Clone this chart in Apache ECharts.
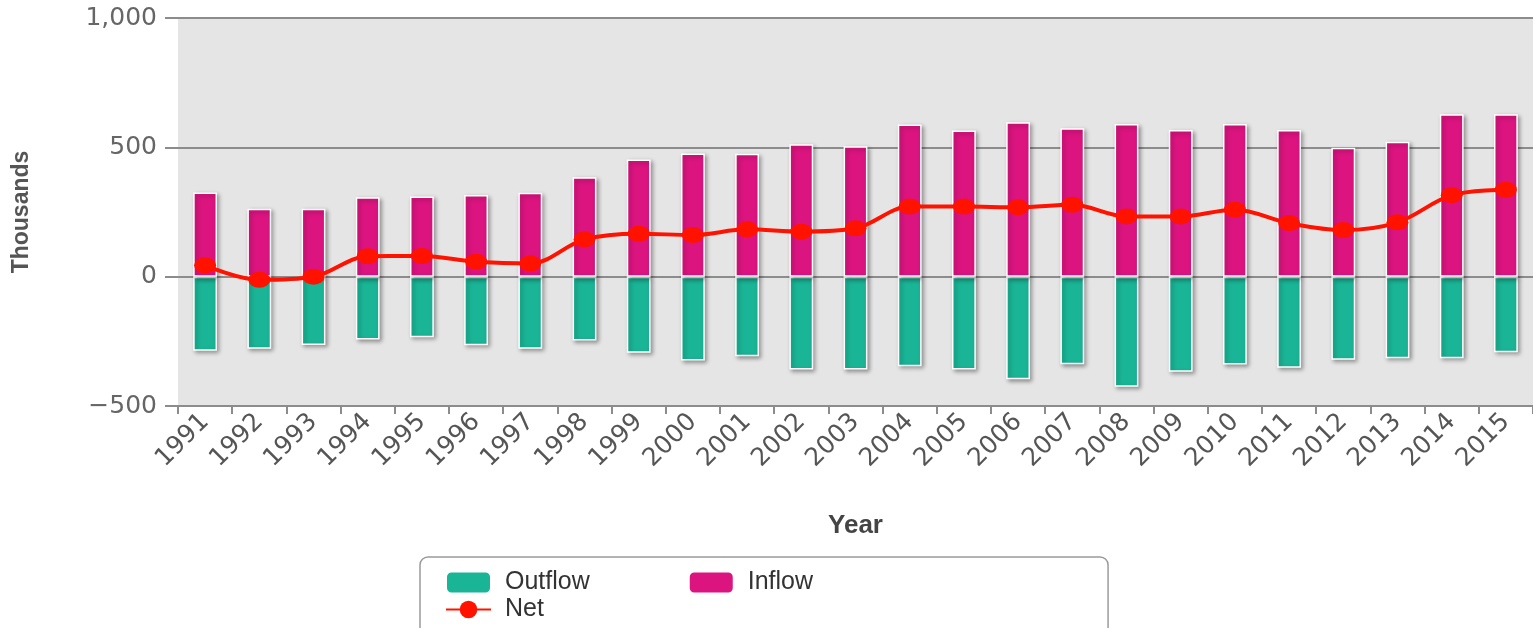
<!DOCTYPE html>
<html>
<head>
<meta charset="utf-8">
<script src="https://cdn.jsdelivr.net/npm/echarts@6/dist/echarts.min.js"></script>
<style>
html,body{margin:0;padding:0;background:#fff;}
#c{width:1533px;height:628px;}
</style>
</head>
<body>
<div id="c"></div>
<script>
var years = ['1991','1992','1993','1994','1995','1996','1997','1998','1999','2000','2001','2002','2003','2004','2005','2006','2007','2008','2009','2010','2011','2012','2013','2014','2015'];
var inflow = [325,263,263,307,310,316,324,384,453,476,475,512,504,588,565,597,574,590,567,590,567,498,522,628,628];
var outflow = [-286,-279,-264,-243,-234,-265,-279,-247,-294,-324,-308,-359,-359,-346,-359,-397,-339,-426,-368,-340,-352,-321,-315,-315,-292];
var net = [44,-12,0,79,80,58,51,144,166,161,183,174,187,271,271,268,278,233,233,259,207,180,210,315,336];
var yTicks = [-500,0,500,1000];

var chart = echarts.init(document.getElementById('c'));
var barStyle = function(color){
  return {color: color, borderColor:'#ffffff', borderWidth:1.5,
    shadowColor:'rgba(0,0,0,0.35)', shadowBlur:4, shadowOffsetX:2, shadowOffsetY:2};
};
var legendText = {fontFamily:'Liberation Sans, Arial, sans-serif', fontSize:25, color:'#333', padding:[0,0,0,9]};
chart.setOption({
  animation:false,
  backgroundColor:'#ffffff',
  grid:{left:178,right:0,top:18,bottom:222,show:true,backgroundColor:'#e5e5e5',borderWidth:0},
  legend:[{
    data:['Outflow','Inflow'],
    left:420, top:557,
    padding:[13,295,45,25],
    borderColor:'#9a9a9a', borderWidth:1.5, borderRadius:8,
    itemWidth:45, itemHeight:22, itemGap:98,
    icon:'roundRect',
    textStyle:legendText
  },{
    data:['Net'],
    left:445, top:597, padding:0,
    itemWidth:45, itemHeight:22,
    textStyle:legendText
  }],
  xAxis:{
    type:'category', data:years,
    name:'Year', nameLocation:'middle', nameGap:107,
    nameTextStyle:{fontFamily:'Liberation Sans, Arial, sans-serif', fontWeight:'bold', fontSize:26, color:'#444'},
    axisLine:{show:true, onZero:false, lineStyle:{color:'#8c8c8c', width:2}},
    axisTick:{show:true, length:8, lineStyle:{color:'#8c8c8c', width:2}},
    axisLabel:{rotate:45, interval:0, fontFamily:'DejaVu Sans, Verdana, sans-serif', fontSize:25, color:'#555', margin:12}
  },
  yAxis:{
    type:'value', min:yTicks[0], max:yTicks[yTicks.length-1], interval:500,
    name:'Thousands', nameLocation:'middle', nameGap:145, nameRotate:90,
    nameTextStyle:{fontFamily:'Liberation Sans Narrow, Liberation Sans, Arial, sans-serif', fontWeight:'bold', fontSize:23, color:'#555'},
    axisLine:{show:false},
    axisTick:{show:true, length:13, lineStyle:{color:'#8c8c8c', width:2}},
    splitLine:{show:true, lineStyle:{color:'#8c8c8c', width:2}},
    axisLabel:{fontFamily:'DejaVu Sans, Verdana, sans-serif', fontSize:25, color:'#666', margin:21,
      formatter:function(v){return v < 0 ? '\u2212' + Math.abs(v).toLocaleString('en-US') : v.toLocaleString('en-US');}}
  },
  series:[
    {name:'Outflow', type:'bar', stack:'flow', data:outflow, barWidth:'44%', itemStyle:barStyle('#1ab596')},
    {name:'Inflow', type:'bar', stack:'flow', data:inflow, barWidth:'44%', itemStyle:barStyle('#dc1480')},
    {name:'Net', type:'line', data:net, smooth:0.35, symbol:'circle', symbolSize:[22,16],
      lineStyle:{color:'#ff1200', width:4}, itemStyle:{color:'#ff1200'}, z:5}
  ]
});
</script>
</body>
</html>
